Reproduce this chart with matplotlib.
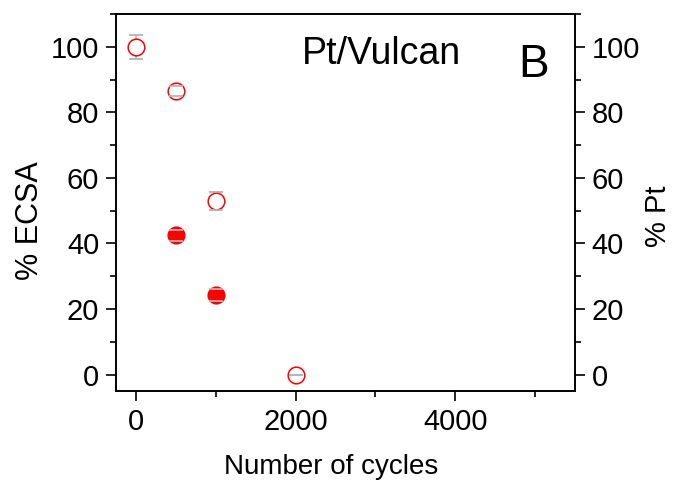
import matplotlib
matplotlib.use("Agg")
import matplotlib.pyplot as plt
from matplotlib.ticker import MultipleLocator

plt.rcParams['font.family'] = ['Liberation Sans', 'DejaVu Sans']

# % ECSA retained (open symbols) and % Pt retained (filled symbols)
cycles_open = [0, 500, 1000, 2000]
ecsa_open = [100, 86.5, 53, 0]
ecsa_err = [3.6, 1.5, 2.7, 0]

cycles_filled = [500, 1000]
pt_filled = [42.5, 24.3]
pt_err = [1.7, 1.7]

red = '#ff0000'
gray = '#b4b4b4'

fig = plt.figure(figsize=(6.76, 4.86), dpi=100)
ax = fig.add_axes([0.1716, 0.1955, 0.679, 0.7757])

def draw(x, y, err, filled):
    face = red if filled else 'white'
    ax.plot(x, y, 'o', ms=12, mfc=face, mec=red, mew=1.1, zorder=3,
            clip_on=False)
    eb = ax.errorbar(x, y, yerr=err, fmt='none', ecolor=gray, elinewidth=1.2,
                     capsize=5, capthick=1.3)
    for c in eb[1]:
        c.set_zorder(4)
    for b in eb[2]:
        b.set_zorder(2)

draw(cycles_open, ecsa_open, ecsa_err, False)
draw(cycles_filled, pt_filled, pt_err, True)

ax.set_xlim(-250, 5500)
ax.set_ylim(-5, 110)
ax.xaxis.set_major_locator(MultipleLocator(2000))
ax.xaxis.set_minor_locator(MultipleLocator(1000))
ax.yaxis.set_major_locator(MultipleLocator(20))
ax.yaxis.set_minor_locator(MultipleLocator(10))
ax.tick_params(which='major', direction='out', length=7, width=1.2,
               labelsize=21, pad=5)
ax.tick_params(which='minor', direction='out', length=4, width=1.2)
ax.tick_params(which='both', top=False, right=False)
for s in ax.spines.values():
    s.set_linewidth(1.2)

ax2 = ax.twinx()
ax2.set_ylim(-5, 110)
ax2.yaxis.set_major_locator(MultipleLocator(20))
ax2.yaxis.set_minor_locator(MultipleLocator(10))
ax2.tick_params(which='major', direction='out', length=7, width=1.2,
                labelsize=21, pad=5)
ax2.tick_params(which='minor', direction='out', length=4, width=1.2)
ax2.tick_params(which='both', top=False, bottom=False, left=False)
for s in ax2.spines.values():
    s.set_linewidth(1.2)

fig.text(331 / 676, 1 - 467 / 486, 'Number of cycles', fontsize=20,
         ha='center', va='center')
fig.text(30 / 676, 1 - 221 / 486, '% ECSA', fontsize=22, rotation=90,
         ha='center', va='center')
fig.text(658 / 676, 1 - 216 / 486, '% Pt', fontsize=21, rotation=90,
         ha='center', va='center')

ax.text(0.404, 0.893, 'Pt/Vulcan', transform=ax.transAxes, fontsize=27,
        ha='left', va='center')
ax.text(0.876, 0.865, 'B', transform=ax.transAxes, fontsize=33,
        ha='left', va='center')

fig.savefig('out.png', dpi=100)
